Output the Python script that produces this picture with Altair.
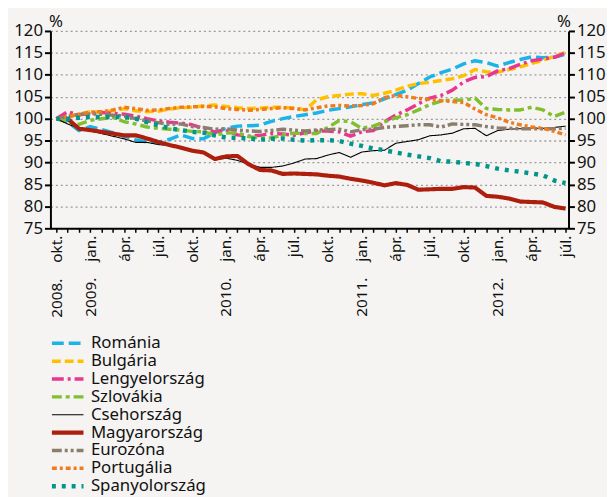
import json
import altair as alt
import pandas as pd

# ---- data (monthly, 2008 okt. = index 0 ... 2012 júl. = index 45) ----
quarter_labels = ["2008.\u00a0\u00a0\u00a0\u00a0okt.", "2009.\u00a0\u00a0\u00a0\u00a0jan.", "ápr.", "júl.", "okt.",
                  "2010.\u00a0\u00a0\u00a0\u00a0jan.", "ápr.", "júl.", "okt.",
                  "2011.\u00a0\u00a0\u00a0\u00a0jan.", "ápr.", "júl.", "okt.",
                  "2012.\u00a0\u00a0\u00a0\u00a0jan.", "ápr.", "júl."]

series_names = ["Románia", "Bulgária", "Lengyelország", "Szlovákia", "Csehország",
                "Magyarország", "Eurozóna", "Portugália", "Spanyolország"]

romania = [100, 99.3, 97.3, 98.2, 97.5, 96.8, 96.0, 95.2, 94.7, 94.6, 95.3, 96.3, 95.5, 95.4, 96.8, 97.8,
           98.3, 98.4, 98.5, 99.4, 100.0, 100.5, 100.9, 101.3, 101.9, 102.3, 102.7, 103.2, 103.6, 104.5,
           105.5, 106.5, 108.0, 109.5, 110.5, 111.3, 112.5, 113.2, 112.8, 112.0, 112.8, 113.5, 114.1,
           113.9, 114.0, 114.7]
bulgaria = [100, 100.5, 101.0, 101.6, 101.5, 101.8, 102.3, 101.8, 101.6, 101.7, 102.2, 102.5, 102.6, 102.9,
            103.1, 102.8, 102.5, 102.3, 102.4, 102.6, 102.6, 102.4, 102.0, 104.3, 105.0, 105.3, 105.6,
            105.7, 105.3, 105.8, 106.5, 107.4, 108.0, 108.3, 108.7, 109.1, 109.8, 111.2, 110.7, 110.6,
            111.2, 111.8, 112.6, 113.3, 114.2, 115.1]
lengyel = [100, 101.6, 100.8, 101.3, 101.4, 101.2, 101.0, 100.6, 100.0, 99.5, 99.2, 99.0, 98.6, 97.8, 97.0,
           97.4, 96.3, 96.0, 96.2, 96.6, 96.5, 96.2, 96.8, 97.2, 97.2, 97.0, 96.0, 97.0, 97.3, 99.3, 100.8,
           102.0, 103.4, 104.7, 105.3, 106.5, 108.4, 109.4, 109.6, 110.9, 111.4, 112.4, 113.2, 113.6,
           114.0, 115.0]
szlovakia = [100, 99.2, 98.7, 99.6, 100.0, 100.3, 99.3, 98.8, 98.1, 97.8, 97.6, 97.4, 97.1, 97.0, 96.3,
             96.7, 96.8, 95.9, 95.6, 95.6, 96.3, 96.7, 96.6, 96.6, 98.0, 99.6, 99.3, 97.8, 98.3, 99.3,
             100.2, 100.9, 102.0, 103.2, 104.0, 104.3, 104.2, 104.7, 102.3, 102.1, 102.0, 102.0, 102.6,
             102.0, 100.5, 101.5]
cseh = [100, 98.8, 97.8, 97.2, 96.6, 96.0, 95.4, 94.6, 94.6, 94.1, 93.9, 93.6, 92.9, 92.3, 90.6, 91.0,
        90.5, 89.6, 88.9, 88.9, 89.2, 89.9, 90.8, 90.9, 91.7, 92.3, 91.2, 92.4, 92.7, 92.8, 94.4, 94.8,
        95.2, 96.1, 96.3, 96.7, 97.7, 97.8, 96.1, 97.3, 97.6, 97.7, 97.8, 97.8, 98.0, 98.3]
magyar = [None, 100, 97.7, 97.4, 97.0, 96.6, 96.2, 96.2, 95.5, 94.7, 94.0, 93.4, 92.7, 92.3, 90.8, 91.4,
          91.5, 89.6, 88.3, 88.2, 87.4, 87.5, 87.4, 87.3, 87.0, 86.8, 86.3, 85.9, 85.4, 84.8, 85.3, 84.9,
          83.8, 83.9, 84.0, 84.0, 84.4, 84.3, 82.4, 82.2, 81.8, 81.1, 81.0, 80.9, 79.9, 79.5]
eurozona = [100, 100.5, 101.0, 101.1, 101.0, 100.8, 100.6, 100.0, 99.5, 99.1, 98.7, 98.8, 98.2, 98.0, 97.6,
            97.7, 97.4, 97.2, 97.1, 97.3, 97.6, 97.4, 97.2, 97.4, 97.5, 97.6, 97.0, 97.5, 97.6, 98.0, 98.2,
            98.4, 98.6, 98.6, 98.1, 98.8, 98.7, 98.6, 98.2, 97.9, 97.8, 97.7, 97.7, 97.7, 97.7, 97.8]
portugalia = [100, 100.4, 101.0, 101.5, 101.6, 102.0, 102.6, 102.3, 101.9, 102.0, 102.3, 102.6, 102.7,
              102.8, 102.7, 102.3, 102.1, 101.9, 102.1, 102.3, 102.5, 102.3, 102.0, 102.5, 102.9, 103.0,
              102.9, 103.0, 103.4, 104.8, 105.3, 105.0, 104.6, 104.4, 104.1, 103.9, 103.7, 102.2, 100.9,
              100.2, 99.2, 98.6, 98.1, 97.8, 97.1, 96.3]
spanyol = [100, 100.0, 100.2, 100.4, 100.4, 100.4, 100.4, 100.0, 99.2, 98.5, 97.8, 97.4, 97.0, 96.8, 96.2,
           95.7, 95.6, 95.5, 95.2, 95.4, 95.5, 95.2, 95.0, 95.1, 95.1, 94.9, 94.3, 93.8, 93.2, 92.8, 92.3,
           91.8, 91.4, 91.0, 90.3, 90.2, 89.9, 89.7, 89.2, 88.6, 88.2, 87.9, 87.5, 87.1, 85.9, 85.3]

y_ticks = [75, 80, 85, 90, 95, 100, 105, 110, 115, 120]

# ---- styles ----
colors = ["#1cb3e8", "#ffc000", "#e8378e", "#80bf2f", "#000000", "#ad1f0c", "#8b7e6d", "#f07a1c", "#00968a"]
dashes = [[12, 5], [9, 4], [12, 4, 3, 4], [10, 4, 4, 4], [1, 0], [1, 0],
          [10, 3, 3, 3, 3, 3], [5, 3, 3, 3], [4, 6]]
widths = [3.5, 3.5, 3.5, 3.5, 1.1, 4.2, 3.5, 3.5, 4.5]

all_series = [romania, bulgaria, lengyel, szlovakia, cseh, magyar, eurozona, portugalia, spanyol]
rows = []
for name, vals in zip(series_names, all_series):
    for i, v in enumerate(vals):
        if v is not None:
            rows.append({"s": name, "i": i, "v": v})
df = pd.DataFrame(rows)

FONT = "Noto Sans"
label_expr = ("datum.value % 3 == 0 ? " + json.dumps(quarter_labels, ensure_ascii=False)
              + "[datum.value / 3] : ''")

xscale = alt.Scale(domain=[-0.52, 45.26], nice=False, zero=False)
yscale = alt.Scale(domain=[75, 120], nice=False, zero=False)

x_axis = alt.Axis(
    values=list(range(46)), labelExpr=label_expr, labelAngle=270, labelFontSize=15.5,
    labelFont=FONT, labelColor="#111111", tickColor="black", tickSize=4, tickWidth=1.5,
    domainColor="black", domainWidth=2, labelPadding=3, grid=False, title=None,
    labelOverlap=False, labelFlush=False)

legend = alt.Legend(
    title=None, orient="none", legendX=9, legendY=308, direction="vertical",
    symbolType="M-4,0H4", symbolSize=64, labelFontSize=17, labelFont=FONT,
    labelColor="#111111", labelOffset=15, rowPadding=0.1, padding=0,
    labelLimit=300,
)

y_axis_common = dict(values=y_ticks, labelFontSize=17, labelFont=FONT, labelColor="#111111",
                     tickColor="black", tickSize=6, tickWidth=2, domainColor="black",
                     domainWidth=2, labelPadding=2, title="%", titleAngle=0,
                     titleFont=FONT, titleFontSize=17, titleFontWeight="normal",
                     titleColor="#111111", titleAlign="center", titleBaseline="alphabetic")

lines = alt.Chart(df).mark_line(strokeCap="butt", strokeJoin="round").encode(
    x=alt.X("i:Q", scale=xscale, axis=x_axis),
    y=alt.Y("v:Q", scale=yscale, axis=alt.Axis(
        orient="left", grid=True, gridDash=[2, 3], gridColor="#9a9a9a", gridWidth=1.3,
        titleX=5, titleY=-5, **y_axis_common)),
    color=alt.Color("s:N", scale=alt.Scale(domain=series_names, range=colors), legend=legend),
    strokeDash=alt.StrokeDash("s:N", scale=alt.Scale(domain=series_names, range=dashes), legend=legend),
    strokeWidth=alt.StrokeWidth("s:N", scale=alt.Scale(type="ordinal", domain=series_names, range=widths),
                                legend=legend),
)

right = alt.Chart(df).mark_point(opacity=0, size=1).encode(
    x=alt.X("i:Q", scale=xscale, axis=x_axis),
    y=alt.Y("v:Q", scale=yscale, axis=alt.Axis(
        orient="right", grid=False, titleX=-5, titleY=-5, **y_axis_common)),
)

chart = alt.layer(lines, right).resolve_scale(y="independent").properties(
    width=525, height=200,
    autosize=alt.AutoSizeParams(type="none"),
    padding={"left": 43, "top": 20, "right": 39, "bottom": 269},
    background="#f5f4f2",
).configure_view(stroke=None)

chart.save("out.html", embed_options={"renderer": "svg", "actions": False})
